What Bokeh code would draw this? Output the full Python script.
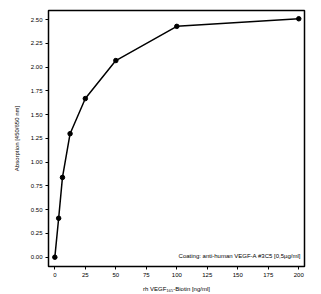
from bokeh.plotting import figure
from bokeh.models import Range1d, FixedTicker, Label, NumeralTickFormatter
from bokeh.embed import file_html
from bokeh.resources import INLINE

conc = [0, 3.125, 6.25, 12.5, 25, 50, 100, 200]
absorption = [0.00, 0.41, 0.84, 1.30, 1.67, 2.07, 2.43, 2.51]
x_ticks = [0, 25, 50, 75, 100, 125, 150, 175, 200]
y_ticks = [0.0, 0.25, 0.5, 0.75, 1.0, 1.25, 1.5, 1.75, 2.0, 2.25, 2.5]

FONT = "Liberation Sans"

p = figure(width=321, height=294, output_backend="svg", toolbar_location=None,
           x_range=Range1d(-5.2, 204.7), y_range=Range1d(-0.098, 2.597),
           min_border_left=48, min_border_right=17, min_border_top=10, min_border_bottom=28)
p.grid.visible = False
p.outline_line_color = "black"
p.outline_line_width = 1.5
p.background_fill_color = "white"
p.border_fill_color = "white"

p.line(conc, absorption, line_color="black", line_width=1.5)
p.scatter(conc, absorption, size=4.5, fill_color="black", line_color="black")

for ax in (p.xaxis[0], p.yaxis[0]):
    ax.axis_line_color = None
    ax.major_tick_line_color = "black"
    ax.major_tick_line_width = 1
    ax.major_tick_out = 3
    ax.major_tick_in = 0
    ax.minor_tick_line_color = None
    ax.major_label_text_font = FONT
    ax.major_label_text_font_size = "6px"
    ax.major_label_text_color = "black"
    ax.axis_label_text_font = FONT
    ax.axis_label_text_font_size = "6px"
    ax.axis_label_text_font_style = "normal"
    ax.axis_label_text_color = "black"
    ax.major_label_standoff = 3
    ax.axis_label_standoff = 8

p.xaxis[0].ticker = FixedTicker(ticks=x_ticks)
p.yaxis[0].ticker = FixedTicker(ticks=y_ticks)
p.yaxis[0].formatter = NumeralTickFormatter(format="0.00")
p.xaxis[0].axis_label_standoff = 6
p.xaxis[0].axis_label = "rh VEGF\u2081\u2086\u2085-Biotin [ng/ml]"
p.yaxis[0].axis_label = "Absorption [450/650 nm]"

p.add_layout(Label(x=200, y=-0.02, text="Coating: anti-human VEGF-A #3C5 [0,5\u00b5g/ml]",
                   text_font=FONT, text_font_size="6px", text_align="right",
                   text_baseline="bottom", x_offset=2, text_color="black"))

open("out.html", "w").write(file_html(p, INLINE))
